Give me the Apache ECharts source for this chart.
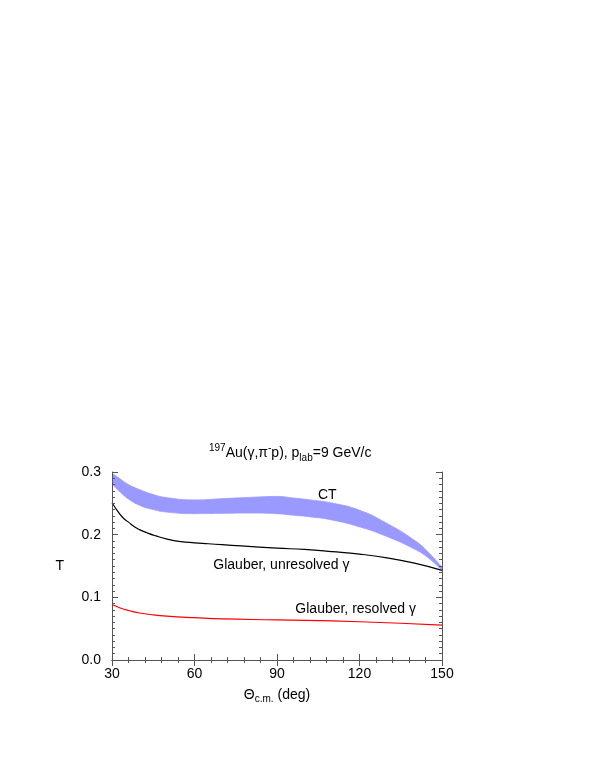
<!DOCTYPE html>
<html>
<head>
<meta charset="utf-8">
<script src="https://cdn.jsdelivr.net/npm/echarts@6/dist/echarts.min.js"></script>
<style>
html,body{margin:0;padding:0;background:#fff;}
#main{width:595px;height:770px;}
</style>
</head>
<body>
<div id="main"></div>
<script>
// ---- data ----
const xTicks = [30, 60, 90, 120, 150];
const yTicks = [0.0, 0.1, 0.2, 0.3];

const ctAngles = [30, 33, 36, 40, 45, 50, 60, 70, 80, 90, 96, 102, 110, 120, 130, 140, 145, 150];
const ctUpper  = [0.298, 0.289, 0.280, 0.272, 0.264, 0.259, 0.2555, 0.2575, 0.2595, 0.261, 0.2585, 0.2555, 0.2505, 0.239, 0.218, 0.191, 0.172, 0.148];
const ctLower  = [0.281, 0.268, 0.257, 0.247, 0.240, 0.236, 0.2335, 0.234, 0.2345, 0.2335, 0.231, 0.2285, 0.2235, 0.2125, 0.197, 0.177, 0.163, 0.143];

const unresAngles = [30, 32, 34, 36, 38, 40, 43, 46, 50, 55, 60, 65, 70, 77, 90, 100, 110, 120, 130, 140, 150];
const unresValues = [0.251, 0.238, 0.227, 0.220, 0.213, 0.208, 0.2025, 0.198, 0.193, 0.189, 0.187, 0.1855, 0.184, 0.182, 0.1785, 0.1764, 0.173, 0.169, 0.163, 0.1545, 0.143];

const resAngles = [30, 33, 36, 40, 45, 50, 60, 70, 90, 120, 150];
const resValues = [0.0885, 0.083, 0.079, 0.075, 0.072, 0.070, 0.0675, 0.0655, 0.064, 0.061, 0.0555];

const curveLabels = [
  {text: 'CT', x: 108.3, y: 0.263},
  {text: 'Glauber, unresolved γ', x: 91.6, y: 0.152},
  {text: 'Glauber, resolved γ', x: 118.6, y: 0.0804}
];

// ---- chart ----
const FONT = 'Liberation Sans, Arial, Helvetica, sans-serif';
const frameColor = '#555555';
const bandColor = '#9999ff';
const chart = echarts.init(document.getElementById('main'), null, {renderer: 'canvas'});

function pairs(xs, ys) { return xs.map((x, i) => [x, ys[i]]); }

function axisBase(extra, minorSplit) {
  return Object.assign({
    type: 'value',
    z: 10,
    axisLine: {show: true, lineStyle: {color: frameColor, width: 1}},
    axisTick: {show: true, inside: true, length: 6, lineStyle: {color: frameColor, width: 1}},
    minorTick: {show: true, splitNumber: minorSplit, length: 3, lineStyle: {color: frameColor, width: 1}},
    splitLine: {show: false},
    minorSplitLine: {show: false}
  }, extra);
}

const option = {
  backgroundColor: '#ffffff',
  animation: false,
  textStyle: {fontFamily: FONT},
  title: {
    text: '{sup|197}{n|Au(γ,π}{sup|-}{n|p), p}{sub|lab}{n|=9 GeV/c}',
    left: 204,
    top: 438,
    textStyle: {
      fontWeight: 'normal',
      rich: {
        n: {fontSize: 14, fontFamily: FONT, fontWeight: 'normal', color: '#000', lineHeight: 20},
        sup: {fontSize: 10, fontFamily: FONT, fontWeight: 'normal', color: '#000', verticalAlign: 'top', lineHeight: 10},
        sub: {fontSize: 10, fontFamily: FONT, fontWeight: 'normal', color: '#000', verticalAlign: 'bottom', lineHeight: 10}
      }
    }
  },
  grid: {left: 112, right: 153, top: 472, bottom: 110, containLabel: false},
  xAxis: [
    axisBase({
      position: 'bottom', min: xTicks[0], max: xTicks[xTicks.length - 1], interval: 30,
      axisLabel: {show: true, margin: 7, fontSize: 14, color: '#000', fontFamily: FONT},
      name: '{n|Θ}{sub|c.m.}{n| (deg)}',
      nameLocation: 'middle',
      nameGap: 26,
      nameTextStyle: {
        rich: {
          n: {fontSize: 14, fontFamily: FONT, color: '#000', lineHeight: 18},
          sub: {fontSize: 10, fontFamily: FONT, color: '#000', verticalAlign: 'bottom', lineHeight: 10}
        }
      }
    }, 5),
    axisBase({
      position: 'top', min: xTicks[0], max: xTicks[xTicks.length - 1], interval: 30,
      axisLabel: {show: false}
    }, 5)
  ],
  yAxis: [
    axisBase({
      position: 'left', min: yTicks[0], max: yTicks[yTicks.length - 1], interval: 0.1,
      axisLabel: {show: true, margin: 11, fontSize: 14, color: '#000', fontFamily: FONT,
        formatter: v => v.toFixed(1)},
      name: 'T', nameLocation: 'middle', nameRotate: 0, nameGap: 48,
      nameTextStyle: {fontSize: 14, fontFamily: FONT, color: '#000'}
    }, 10),
    axisBase({
      position: 'right', min: yTicks[0], max: yTicks[yTicks.length - 1], interval: 0.1,
      axisLabel: {show: false}
    }, 10)
  ],
  series: [
    {
      // upper edge of the CT band, filled down to the axis
      name: 'CT upper',
      type: 'line',
      xAxisIndex: 0, yAxisIndex: 0,
      data: pairs(ctAngles, ctUpper),
      showSymbol: false, symbol: 'none',
      smooth: 0.5,
      lineStyle: {color: bandColor, width: 0.8},
      areaStyle: {color: bandColor, opacity: 1, origin: 'start'},
      z: 1
    },
    {
      // lower edge of the CT band, white fill below it cuts the band out
      name: 'CT lower',
      type: 'line',
      xAxisIndex: 0, yAxisIndex: 0,
      data: pairs(ctAngles, ctLower),
      showSymbol: false, symbol: 'none',
      smooth: 0.5,
      lineStyle: {color: bandColor, width: 0.8},
      areaStyle: {color: '#ffffff', opacity: 1, origin: 'start'},
      z: 2
    },
    {
      name: 'Glauber, unresolved',
      type: 'line',
      xAxisIndex: 0, yAxisIndex: 0,
      data: pairs(unresAngles, unresValues),
      showSymbol: false, symbol: 'none',
      smooth: 0.5,
      lineStyle: {color: '#000000', width: 1.2},
      z: 4,
      markPoint: {
        symbol: 'circle', symbolSize: 0,
        itemStyle: {color: 'rgba(0,0,0,0)'},
        label: {show: true, position: 'inside', fontSize: 14, fontFamily: FONT, color: '#000',
          formatter: p => p.name},
        data: curveLabels.map(l => ({name: l.text, coord: [l.x, l.y]}))
      }
    },
    {
      name: 'Glauber, resolved',
      type: 'line',
      xAxisIndex: 0, yAxisIndex: 0,
      data: pairs(resAngles, resValues),
      showSymbol: false, symbol: 'none',
      smooth: 0.5,
      lineStyle: {color: '#ff0000', width: 1.2},
      z: 4
    }
  ]
};
chart.setOption(option);
</script>
</body>
</html>
